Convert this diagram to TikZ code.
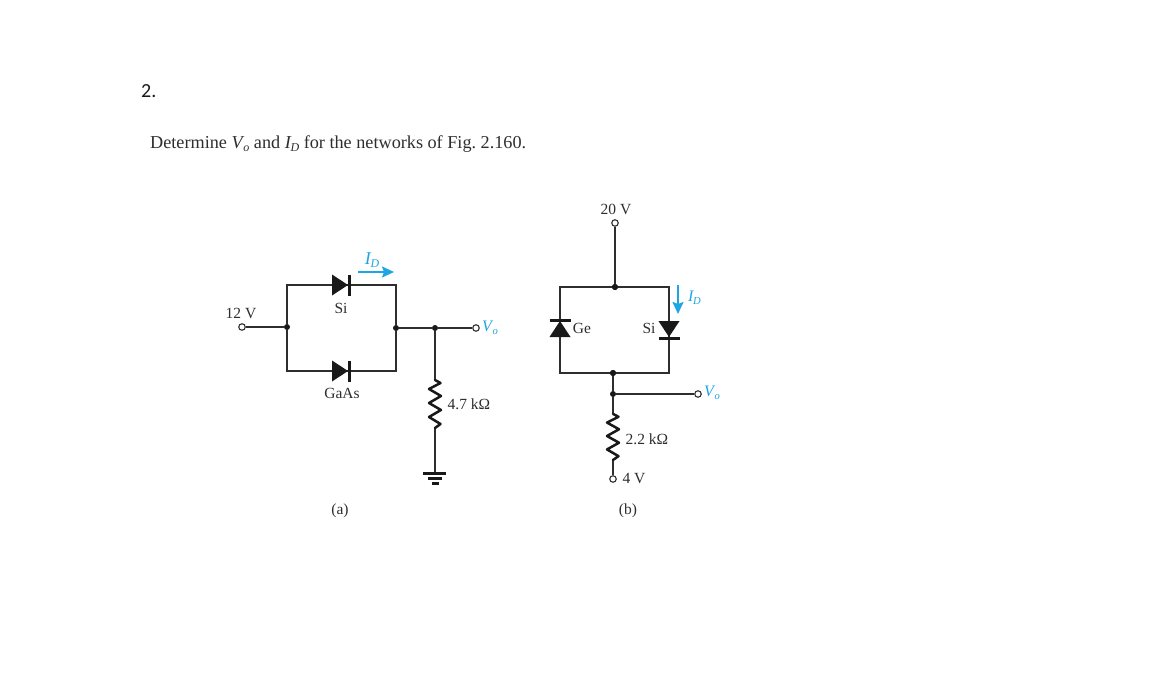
\documentclass[tikz,border=0pt]{standalone}
\usepackage{fontspec}
\setmainfont{Liberation Serif}
\newfontfamily\numfont{Carlito}
\usetikzlibrary{arrows.meta,calc}
\definecolor{ink}{HTML}{2E2E2E}
\definecolor{cur}{HTML}{1CA6E2}
\newcommand{\subvar}[2]{\textit{#1}\kern-1pt\raisebox{-0.16em}{\fontsize{0.66em}{0.66em}\selectfont\textit{#2}}}
\frenchspacing
\tikzset{
  x=1pt,y=-1pt,
  wire/.style={draw=ink,line width=1.3pt},
  dot/.style={circle,fill=black!90,inner sep=0pt,minimum size=6pt},
  term/.style={circle,draw=ink,fill=white,line width=1.1pt,inner sep=0pt,minimum size=6.5pt},
  lbl/.style={inner sep=0pt,text=ink,font=\fontsize{15.5}{15.5}\selectfont},
  vlbl/.style={inner sep=0pt,text=cur,font=\fontsize{16}{16}\selectfont},
  ilbl/.style={inner sep=0pt,text=cur,font=\fontsize{18}{18}\selectfont},
  curarrow/.style={draw=cur,line width=1.8pt,-{Stealth[length=12pt,width=11pt,inset=2pt]}},
  diode/.pic={
    \fill[black!90] (-8,-10.5) -- (8,0) -- (-8,10.5) -- cycle;
    \draw[black!90,line width=3pt] (9,-10.5) -- (9,10.5);
  },
  res/.pic={
    \draw[black!90,line width=2.5pt,line join=round,line cap=round]
      (0,0) -- (5.5,-4) -- (-6,-11) -- (6,-18) -- (-6,-25) -- (6,-32) -- (-6,-39) -- (5.5,-45) -- (0,-48);
  }
}
\begin{document}
\begin{tikzpicture}
\useasboundingbox (0,0) rectangle (1170,679);
\fill[white] (0,0) rectangle (1170,679);

\node[anchor=base west,inner sep=0pt,font=\numfont\fontsize{20}{20}\selectfont,text=black!90] (num) at (141,98) {2.};
\node[anchor=base west,inner sep=0pt,text=ink,font=\fontsize{18.2}{18.2}\selectfont] (task) at (150,149) {Determine \subvar{V}{o} and \subvar{I}{D} for the networks of Fig. 2.160.};

% circuit (a)
\node[term] (aIn) at (242,327) {};
\node[dot] (aL) at (287,327) {};
\node[dot] (aR) at (396,328) {};
\node[dot] (aJ) at (435,328) {};
\node[term] (aOut) at (476,328) {};
\coordinate (aTL) at (287,285);
\coordinate (aTR) at (396,285);
\coordinate (aBL) at (287,371);
\coordinate (aBR) at (396,371);
\coordinate (aRtop) at (435,380);
\coordinate (aRbot) at (435,428);
\coordinate (aG) at (435,473);
\draw[wire] (aIn) -- (aL) (aR) -- (aJ) -- (aOut);
\draw[wire] (aL) -- (aTL) -- (aTR) -- (aR) -- (aBR) -- (aBL) -- (aL);
\draw[wire] (aJ) -- (aRtop) (aRbot) -- (aG);
\pic at (340,285) {diode};
\pic at (340,371) {diode};
\pic at (aRbot) {res};
\draw[black!90,line width=3pt] (423,473) -- (446,473);
\draw[black!90,line width=3pt] (428,478) -- (442,478);
\draw[black!90,line width=3pt] (431.5,483) -- (438.5,483);
\node[lbl] (a12) at (241,313) {12 V};
\node[lbl] (aSi) at (341,308) {Si};
\node[lbl] (aGa) at (342,393) {GaAs};
\node[lbl] (aR47) at (469,404) {4.7 kΩ};
\node[lbl] (aCap) at (340,511) {(a)};
\node[vlbl,anchor=west] (aVo) at (482,328) {\subvar{V}{o}};
\node[ilbl] (aId) at (372,260) {\subvar{I}{D}};
\coordinate (aA1) at (358,272);
\coordinate (aA2) at (394,272);
\draw[curarrow] (aA1) -- (aA2);

% circuit (b)
\node[term] (bIn) at (615,223) {};
\node[dot] (bT) at (615,287) {};
\node[dot] (bB) at (613,373) {};
\node[dot] (bJ) at (613,394) {};
\node[term] (bOut) at (698,394) {};
\node[term] (bLow) at (613,479) {};
\coordinate (bTL) at (560,287);
\coordinate (bTR) at (669,287);
\coordinate (bBL) at (560,373);
\coordinate (bBR) at (669,373);
\coordinate (bRtop) at (613,414);
\coordinate (bRbot) at (613,460);
\draw[wire] (bIn) -- (bT);
\draw[wire] (bTL) -- (bTR) -- (bBR) -- (bBL) -- cycle;
\draw[wire] (bB) -- (bJ) -- (bRtop) (bRbot) -- (bLow);
\draw[wire] (bJ) -- (bOut);
\node[dot] at (bT) {};
\node[dot] at (bB) {};
\pic[rotate=90] at (560,329) {diode};
\pic[rotate=-90] at (669,329) {diode};
\pic[yscale=0.96] at (bRbot) {res};
\node[lbl] (b20) at (616,209) {20 V};
\node[lbl] (bGe) at (582,328) {Ge};
\node[lbl] (bSi) at (649,328) {Si};
\node[lbl] (bR22) at (647,439) {2.2 kΩ};
\node[lbl] (b4) at (634,479) {4 V};
\node[lbl] (bCap) at (628,511) {(b)};
\node[vlbl,anchor=west] (bVo) at (704,393) {\subvar{V}{o}};
\node[vlbl,anchor=west] (bId) at (688,298) {\subvar{I}{D}};
\coordinate (bA1) at (678,285);
\coordinate (bA2) at (678,314);
\draw[curarrow] (bA1) -- (bA2);
\end{tikzpicture}
\end{document}
